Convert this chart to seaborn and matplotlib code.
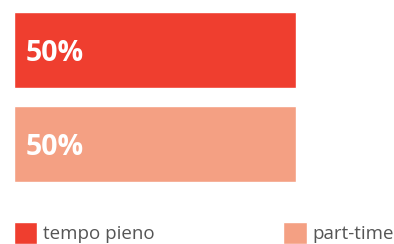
"""Two horizontal bars: share of full-time vs part-time."""

import matplotlib.pyplot as plt
import pandas as pd
import seaborn as sns

CATEGORIES = ["tempo pieno", "part-time"]
SHARES = [50, 50]
LABELS = ["50%", "50%"]
COLORS = ["#EF3E2F", "#F4A083"]


def _main() -> None:
    df = pd.DataFrame({"tipo": CATEGORIES, "quota": SHARES})
    sns.set_style("white")
    plt.rcParams["font.family"] = ["Open Sans", "DejaVu Sans"]

    W, H = 394, 244
    fig = plt.figure(figsize=(W / 100, H / 100), dpi=100)
    # axes cover the bar region: x from 14px, y from 12px to 182px
    ax = fig.add_axes([14 / W, (H - 182) / H, (W - 14) / W, 170 / H])
    width = 76 / 94
    xmax = 50 * (W - 14) / 282
    sns.barplot(data=df, x="quota", y="tipo", hue="tipo", palette=COLORS,
                width=width, saturation=1, ax=ax, legend=True)
    ax.set_xlim(0, xmax)
    ax.set_ylim(len(CATEGORIES) - 1 + width / 2, -width / 2)
    ax.set_axis_off()

    for i, label in enumerate(LABELS):
        ax.text(12 * xmax / (W - 14), i + 0.04, label, color="white",
                fontsize=20.5, fontweight="bold", ha="left", va="center")

    sns.move_legend(ax, "lower left",
                    bbox_to_anchor=(14 / W, 0, (W - 14) / W, 22 / H),
                    bbox_transform=fig.transFigure, mode="expand", ncols=2,
                    frameon=False, title=None, borderaxespad=0, borderpad=0,
                    handlelength=1.25, handleheight=1.4, handletextpad=0.3,
                    prop={"size": 13.5})
    for t in ax.get_legend().get_texts():
        t.set_color("#555555")

    fig.savefig("out.png", dpi=100, facecolor="w")


if __name__ == "__main__":
    _main()
